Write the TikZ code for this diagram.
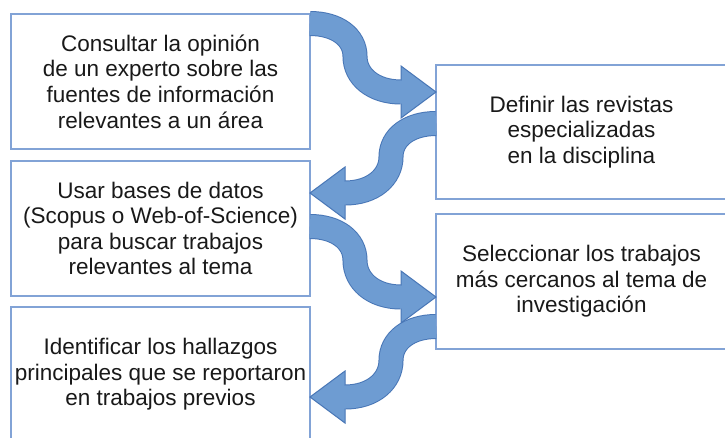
\documentclass[tikz,border=0pt]{standalone}
\usepackage{fontspec}
\setmainfont{Liberation Sans}
\usetikzlibrary{calc}
\definecolor{boxline}{RGB}{130,163,214}
\definecolor{arrfill}{RGB}{110,156,210}
\definecolor{arrline}{RGB}{72,118,182}
\definecolor{txt}{RGB}{25,25,25}
\tikzset{
  stepbox/.style={draw=boxline, line width=1.3pt, fill=white, inner sep=0pt, outer sep=0pt,
    align=center, text=txt, font=\fontsize{22.5pt}{25.6pt}\selectfont},
}
\newcommand\sarrow[3]{%
  \path let \p1=(#1), \p2=(#2), \n1={\y1-\y2} in
    coordinate (sa) at (\x1,\y1)
    coordinate (sb) at ({\x1+(#3)*27pt},\y1)
    coordinate (sc) at ({\x1+(#3)*45pt},{\y1-0.2*\n1})
    coordinate (sd) at ({\x1+(#3)*45pt},{\y1-0.48*\n1})
    coordinate (se) at ({\x1+(#3)*45pt},{\y1-0.77*\n1})
    coordinate (sf) at ({\x2-(#3)*63pt},\y2)
    coordinate (sg) at ({\x2-(#3)*35pt},\y2)
    coordinate (sh) at ({\x2-(#3)*33.5pt},\y2)
    coordinate (si) at ({\x2-(#3)*35pt},{\y2+26pt})
    coordinate (sj) at ({\x2-(#3)*35pt},{\y2-26pt});
  \draw[line width=25pt, arrline] (sa) .. controls (sb) and (sc) .. (sd) .. controls (se) and (sf) .. (sg);
  \filldraw[fill=arrfill, draw=arrline, line width=1pt, line join=miter] (si) -- (#2) -- (sj) -- cycle;
  \draw[line width=23pt, arrfill] (sa) .. controls (sb) and (sc) .. (sd) .. controls (se) and (sf) .. (sg) -- (sh);
}
\begin{document}
\begin{tikzpicture}[x=1pt, y=-1pt]
  \fill[white] (0,0) rectangle (725,437);
  \useasboundingbox (0,0) rectangle (725,437);

  \node[stepbox, minimum width=299pt, minimum height=135pt] (b1) at (160.5,81.5)
    {Consultar la opinión\\de un experto sobre las\\fuentes de información\\relevantes a un área};
  \node[stepbox, minimum width=299pt, minimum height=135pt] (b2) at (160.5,228.5)
    {Usar bases de datos\\(Scopus o Web-of-Science)\\para buscar trabajos\\relevantes al tema};
  \node[stepbox, minimum width=299pt, minimum height=135pt] (b3) at (160.5,374.5)
    {Identificar los hallazgos\\principales que se reportaron\\en trabajos previos};
  \node[stepbox, minimum width=291pt, minimum height=134pt] (r1) at (581.5,132)
    {Definir las revistas\\especializadas\\en la disciplina};
  \node[stepbox, minimum width=291pt, minimum height=135pt] (r2) at (581.5,281.5)
    {Seleccionar los trabajos\\más cercanos al tema de\\investigación};

  \coordinate (a1s) at ($(b1.north east)+(0,9.5)$);
  \coordinate (a1e) at ($(r1.north west)+(0,27)$);
  \coordinate (a2s) at ($(r1.north west)+(0,58.5)$);
  \coordinate (a2e) at ($(b2.north east)+(0,32)$);
  \coordinate (a3s) at ($(b2.north east)+(0,65.5)$);
  \coordinate (a3e) at ($(r2.north west)+(0,83)$);
  \coordinate (a4s) at ($(r2.north west)+(0,112.5)$);
  \coordinate (a4e) at ($(b3.north east)+(0,90)$);

  \sarrow{a1s}{a1e}{1}
  \sarrow{a2s}{a2e}{-1}
  \sarrow{a3s}{a3e}{1}
  \sarrow{a4s}{a4e}{-1}
\end{tikzpicture}
\end{document}
